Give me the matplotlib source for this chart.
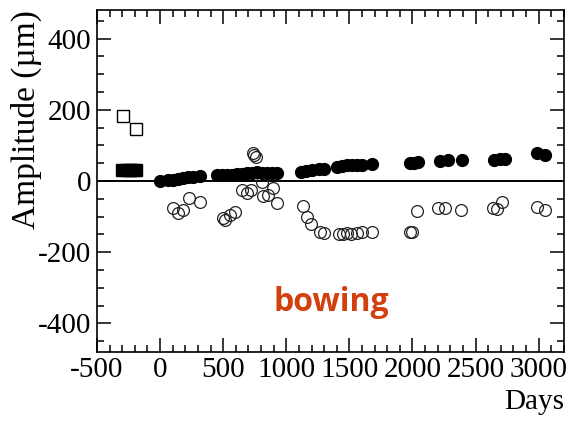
import matplotlib
matplotlib.use("Agg")
import matplotlib.pyplot as plt
from matplotlib.ticker import MultipleLocator

# Pre-irradiation reference measurements (squares)
ref_open_days = [-292, -190]
ref_open_amp = [184, 145]
ref_fill_days = [-300, -270, -240, -215, -192]
ref_fill_amp = [30, 30, 30, 30, 30]

# Filled circles: positive amplitude component
fill_days = [0, 60, 100, 140, 180, 220, 260, 320,
             450, 490, 530, 570, 610, 650, 690, 730, 770, 810, 850, 890, 930,
             1120, 1160, 1200, 1260, 1300, 1400, 1440, 1480, 1520, 1560, 1600, 1680,
             1980, 2010, 2040, 2220, 2280, 2390, 2650, 2690, 2730, 2990, 3050]
fill_amp = [0, 2, 4, 6, 8, 10, 12, 14,
            16, 16, 17, 18, 19, 20, 22, 24, 25, 24, 23, 22, 22,
            25, 28, 30, 33, 34, 40, 43, 44, 45, 46, 45, 48,
            50, 52, 53, 56, 58, 58, 60, 61, 62, 79, 74]

# Open circles: bowing component
open_days = [102, 142, 181, 229, 316,
             498, 514, 554, 593,
             648, 688, 720, 736, 745, 760, 807, 815, 854, 894, 925,
             1131, 1163, 1195, 1270, 1300, 1420, 1450, 1480, 1510, 1560, 1600, 1680,
             1980, 2000, 2034, 2201, 2256, 2383, 2640, 2670, 2710, 2985, 3048]
open_amp = [-75, -89, -80, -47, -58,
            -103, -110, -94, -88,
            -24, -33, -24, 78, 74, 68, -2, -43, -38, -19, -61,
            -71, -100, -122, -143, -145, -148, -150, -147, -150, -145, -143, -143,
            -143, -143, -85, -77, -77, -80, -77, -78, -58, -72, -80]

plt.rcParams["font.family"] = ["Liberation Serif", "DejaVu Serif"]
plt.rcParams["axes.unicode_minus"] = False

fig = plt.figure(figsize=(5.69, 4.24), dpi=100)
ax = fig.add_axes([0.1705, 0.170, 0.8205, 0.806])

ax.axhline(0, color="black", lw=1.4, zorder=1)

ax.plot(ref_open_days, ref_open_amp, ls="none", marker="s", ms=8.5,
        mfc="white", mec="black", mew=1.0, zorder=3)
ax.plot(ref_fill_days, ref_fill_amp, ls="none", marker="s", ms=8.5,
        mfc="black", mec="black", zorder=3)
ax.plot(fill_days, fill_amp, ls="none", marker="o", ms=8.5,
        mfc="black", mec="black", zorder=3)
ax.plot(open_days, open_amp, ls="none", marker="o", ms=8.5,
        mfc="none", mec="#222222", mew=0.9, zorder=2)

ax.set_xlim(-500, 3200)
ax.set_ylim(-480, 480)
ax.xaxis.set_major_locator(MultipleLocator(500))
ax.xaxis.set_minor_locator(MultipleLocator(100))
ax.yaxis.set_major_locator(MultipleLocator(200))
ax.yaxis.set_minor_locator(MultipleLocator(50))
ax.tick_params(which="both", direction="in", top=True, right=True,
               labelsize=21, width=1.1, pad=4)
ax.tick_params(which="major", length=10)
ax.tick_params(which="minor", length=5)
for s in ax.spines.values():
    s.set_linewidth(1.2)

ax.set_ylabel("Amplitude (\u00b5m)", fontsize=24, loc="top")
ax.yaxis.set_label_coords(-0.118, 1.0)
ax.set_xlabel("Days", fontsize=21, loc="right")

ax.text(1353, -341, "bowing", color="#d2400e", fontsize=23, fontweight="bold",
        family=["Open Sans", "DejaVu Sans"], ha="center", va="center")

fig.savefig("out.png", dpi=100)
